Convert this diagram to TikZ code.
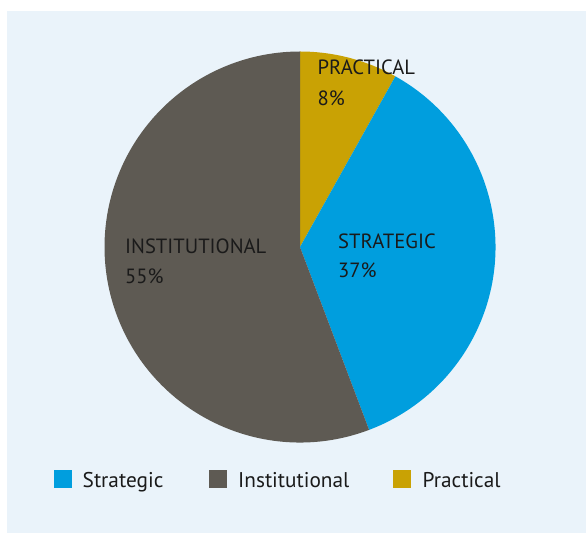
\documentclass[tikz,border=0pt]{standalone}
\usepackage{fontspec}
\setmainfont{PT Sans}
\usetikzlibrary{positioning}

\definecolor{stratblue}{RGB}{0,158,222}
\definecolor{instgray}{RGB}{94,90,83}
\definecolor{practgold}{RGB}{201,162,4}
\definecolor{panelbg}{RGB}{234,243,250}
\definecolor{inkblack}{RGB}{26,26,26}

\tikzstyle{lbl} = [text=inkblack, inner sep=0pt, anchor=base west, font=\fontsize{20.6}{24}\selectfont]
\tikzstyle{legtxt} = [lbl, font=\fontsize{21.3}{24}\selectfont]
\tikzstyle{key} = [minimum size=18pt, inner sep=0pt, anchor=south west]

\begin{document}
\begin{tikzpicture}[x=1pt, y=1pt]

\useasboundingbox (0,0) rectangle (586,533);
\fill[panelbg] (7,0) rectangle (586,522);

% pie centre and radius
\coordinate (c) at (300,286);
\def\rad{195.5}

%PRACTICAL 8%
\fill[practgold] (c) -- ++(90:\rad) arc (90:60.8:\rad) -- cycle;
%STRATEGIC 37%
\fill[stratblue] (c) -- ++(60.8:\rad) arc (60.8:-69.3:\rad) -- cycle;
%INSTITUTIONAL 55%
\fill[instgray] (c) -- ++(-69.3:\rad) arc (-69.3:-270:\rad) -- cycle;

% slice labels
\node[lbl] (practname) at (317.5,458) {PRACTICAL};
\node[lbl] (practpct) at (317.5,427) {8\%};
\node[lbl] (stratname) at (338,284.3) {STRATEGIC};
\node[lbl] (stratpct) at (338,255) {37\%};
\node[lbl] (instname) at (125,279) {INSTITUTIONAL};
\node[lbl] (instpct) at (125,249) {55\%};

% legend
\node[key, fill=stratblue] (stratkey) at (54,45) {};
\node[legtxt] (stratleg) at (82.5,45.7) {Strategic};
\node[key, fill=instgray] (instkey) at (208.5,45) {};
\node[legtxt] (instleg) at (238,45.7) {Institutional};
\node[key, fill=practgold] (practkey) at (393,45) {};
\node[legtxt] (practleg) at (422.5,45.7) {Practical};

\end{tikzpicture}
\end{document}
